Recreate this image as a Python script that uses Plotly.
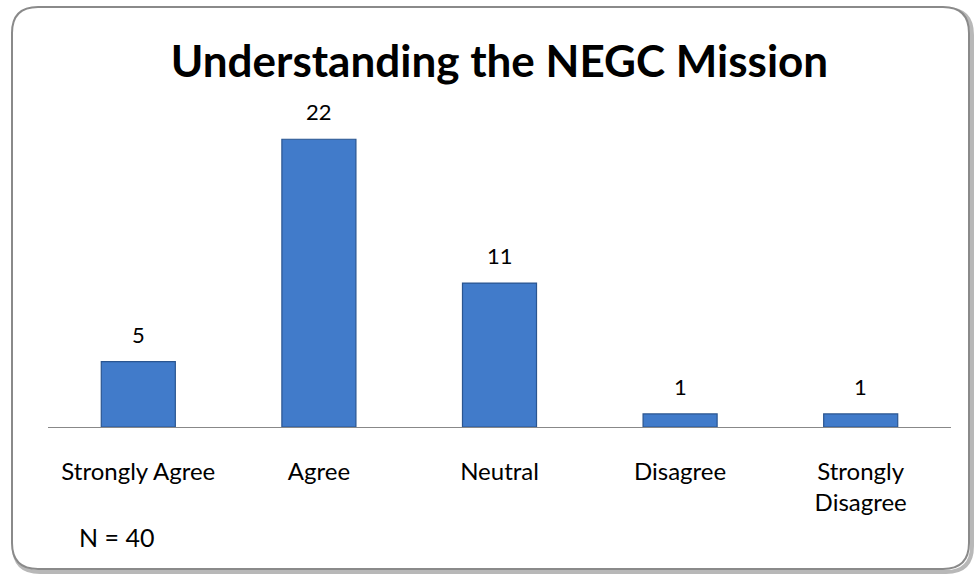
import plotly.graph_objects as go

categories = ["Strongly Agree", "Agree", "Neutral", "Disagree", "Strongly<br>Disagree"]
values = [5, 22, 11, 1, 1]
title_text = "Understanding the NEGC Mission"
note_text = "N = 40"

W, H = 977, 577
ML, MR, MT, MB = 48, 26, 100, 150
PW, PH = W - ML - MR, H - MT - MB
Y_MAX = 25

def px2paper(px, py):
    return (px - ML) / PW, (H - MB - py) / PH

def rounded_path(x0, y0, x1, y1, r):
    def p(x, y):
        a, b = px2paper(x, y)
        return f"{a:.5f},{b:.5f}"
    return (f"M {p(x0 + r, y0)} L {p(x1 - r, y0)} Q {p(x1, y0)} {p(x1, y0 + r)} "
            f"L {p(x1, y1 - r)} Q {p(x1, y1)} {p(x1 - r, y1)} "
            f"L {p(x0 + r, y1)} Q {p(x0, y1)} {p(x0, y1 - r)} "
            f"L {p(x0, y0 + r)} Q {p(x0, y0)} {p(x0 + r, y0)} Z")

fig = go.Figure()
fig.add_trace(go.Bar(
    x=categories, y=values, width=0.41,
    marker=dict(color="#417BCA", line=dict(color="#2A5590", width=1.2)),
    hoverinfo="x+y",
))

for c, v in zip(categories, values):
    fig.add_annotation(x=c, y=v, text=str(v), showarrow=False, yanchor="bottom",
                       yshift=12, font=dict(family="Lato", size=22, color="#000"))

fig.add_annotation(xref="paper", yref="paper", x=px2paper(77, 0)[0], y=px2paper(0, 537)[1],
                   xanchor="left", yanchor="middle", text=note_text, showarrow=False,
                   font=dict(family="Lato", size=25, color="#000"))

shapes = [
    dict(type="path", xref="paper", yref="paper", path=rounded_path(14, 9, 972, 572, 26),
         line=dict(color="#b8b8b8", width=4), layer="below"),
    dict(type="path", xref="paper", yref="paper", path=rounded_path(12, 7, 969, 569, 26),
         line=dict(color="#8a8a8a", width=2), fillcolor="white", layer="below"),
]

fig.update_layout(
    width=W, height=H,
    margin=dict(l=ML, r=MR, t=MT, b=MB),
    paper_bgcolor="white", plot_bgcolor="rgba(0,0,0,0)",
    title=dict(text=f"<b>{title_text}</b>", x=0.5, xref="paper", xanchor="center",
               y=1 - 62 / H, yanchor="middle",
               font=dict(family="Lato", size=44, color="#000")),
    shapes=shapes,
    showlegend=False,
    bargap=0.59,
)
fig.update_xaxes(showline=True, linecolor="#888888", linewidth=1, ticks="",
                 tickfont=dict(family="Lato", size=24, color="#000"),
                 ticklabelstandoff=23, showgrid=False, zeroline=False)
fig.update_yaxes(range=[0, Y_MAX], visible=False, showgrid=False, zeroline=False)

fig.write_html("out.html", config={"displayModeBar": False},
               post_script="document.body.style.margin='0';")
